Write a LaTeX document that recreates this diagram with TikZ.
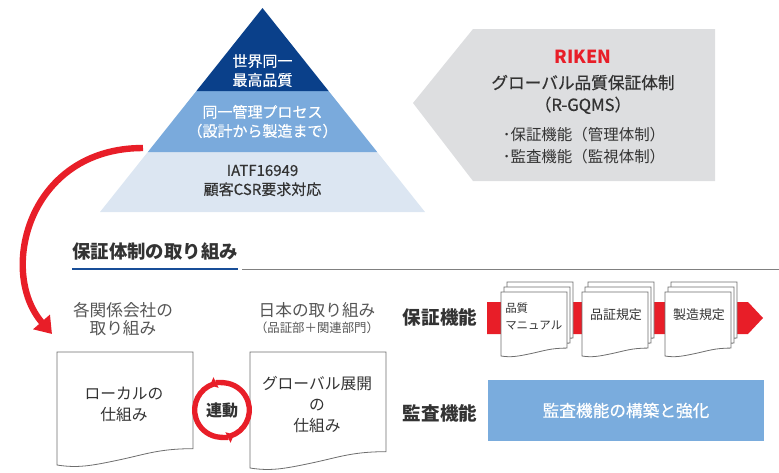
\documentclass[tikz,border=0pt]{standalone}
\usepackage{fontspec}
\setmainfont{Noto Sans CJK JP}
\newfontfamily\medfont{Noto Sans CJK JP}[FakeBold=0.5]
\usetikzlibrary{arrows.meta, positioning}

\definecolor{navy}{RGB}{10,64,138}
\definecolor{midblue}{RGB}{122,170,220}
\definecolor{paleblue}{RGB}{220,230,242}
\definecolor{panelgray}{RGB}{221,222,224}
\definecolor{rikenred}{RGB}{232,30,40}
\definecolor{textgray}{RGB}{51,51,51}
\definecolor{softgray}{RGB}{85,85,85}
\definecolor{boxblue}{RGB}{122,172,221}
\definecolor{lineblue}{RGB}{24,78,152}
\definecolor{pagegray}{RGB}{110,110,110}

\newcommand{\fsz}[2]{\fontsize{#1}{#2}\selectfont}
% page with wavy bottom: style, left, top, width, height
\newcommand{\sheet}[5]{%
  \draw[#1] (#2,#3) -- ++(#4,0) -- ++(0,#5-0.12*#4)
    .. controls +(-0.25*#4,0) and +(0.2*#4,-0.042*#4) .. ++(-0.55*#4,0.084*#4)
    .. controls +(-0.2*#4,0.042*#4) and +(0.15*#4,0.024*#4) .. ++(-0.45*#4,0.036*#4)
    -- cycle;}

\tikzset{
  pyrtext/.style={align=center, inner sep=0pt, font=\medfont\fsz{11.25}{14.25}},
  paneltext/.style={align=center, inner sep=0pt, text=textgray},
  bigarrow/.style={draw=rikenred, line width=4.8pt, -{Triangle[length=12pt,width=16pt]}},
  ringline/.style={draw=rikenred, line width=4pt, -{Triangle[length=5pt,width=8.5pt]}},
  colhead/.style={align=center, inner sep=0pt, text=softgray, font=\fsz{12.5}{13.5}},
  doctext/.style={align=center, inner sep=0pt, text=textgray, font=\fsz{11.8}{16}},
  docpage/.style={draw=pagegray, line width=0.6pt, fill=white},
  rowlabel/.style={inner sep=0pt, text=textgray, font=\bfseries\fsz{13.9}{16}},
  pagetext/.style={inner sep=0pt, text=textgray, font=\fsz{9.7}{12}},
  auditbox/.style={fill=boxblue, text=white, minimum width=207pt, minimum height=45.75pt,
    inner sep=0pt, font=\medfont\fsz{12.5}{14}},
}

\begin{document}
\begin{tikzpicture}[x=0.75pt, y=-0.75pt]
  \useasboundingbox (0,0) rectangle (779,472);

  % pyramid
  \fill[paleblue] (100,212) -- (147.8,152) -- (377.2,152) -- (425,212) -- cycle;
  \fill[midblue] (147.8,152) -- (196.4,91) -- (328.6,91) -- (377.2,152) -- cycle;
  \fill[navy] (196.4,91) -- (262.5,8) -- (328.6,91) -- cycle;
  \node[pyrtext, text=white] (best) at (262.5,70.5) {世界同一\\最高品質};
  \node[pyrtext, text=white] (process) at (262.5,121.5) {同一管理プロセス\\（設計から製造まで）};
  \node[pyrtext, text=textgray] (iatf) at (262.5,180.5) {IATF16949\\顧客CSR要求対応};

  % R-GQMS panel
  \fill[panelgray] (413,103) -- (473,29) -- (715,29) -- (715,181) -- (473,181) -- cycle;
  \node[paneltext, text=rikenred, font=\bfseries\fsz{13.5}{15}] (riken) at (583,57) {RIKEN};
  \node[paneltext, font=\medfont\fsz{12.5}{16.5}, below=8pt of riken] (gqms) {グローバル品質保証体制\\（R-GQMS）};
  \node[paneltext, font=\fsz{11.6}{16.5}, align=left] (funcs) at (584,146) {･保証機能（管理体制）\\･監査機能（監視体制）};

  % arrow down to the local side
  \coordinate (pyrleft) at (143,148);
  \coordinate (downto) at (52,334);
  \draw[bigarrow] (pyrleft) .. controls (28,148) and (-2,272) .. (downto);

  % heading
  \node[inner sep=0pt, anchor=west, text=textgray, font=\bfseries\fsz{13.8}{16}] (title) at (72,252) {保証体制の取り組み};
  \draw[lineblue, line width=1.5pt] (72,269) -- (238,269);
  \draw[gray, line width=0.7pt] (242,269) -- (779,269);

  % two columns
  \node[colhead] (affil) at (123,319) {各関係会社の\\取り組み};
  \node[colhead] (japan) at (317,310) {日本の取り組み};
  \node[colhead, font=\fsz{9.3}{11}, below=3pt of japan] (dept) {（品証部＋関連部門）};

  \sheet{docpage}{57}{352}{136}{113}
  \sheet{docpage}{250}{352}{136}{116}
  \node[doctext] (local) at (124,404.5) {ローカルの\\仕組み};
  \node[doctext] (global) at (317,404.5) {グローバル展開\\の\\仕組み};

  % link ring
  \node[inner sep=0pt, text=textgray, font=\bfseries\fsz{12}{14}] (link) at (222,410) {連動};
  \draw[ringline] ([shift={(108:20.5pt)}]link.center) arc[start angle=108, end angle=296, radius=20.5pt];
  \draw[ringline] ([shift={(-72:20.5pt)}]link.center) arc[start angle=-72, end angle=116, radius=20.5pt];

  % assurance row
  \node[rowlabel] (assure) at (440,317) {保証機能};
  \fill[rikenred] (487,302) -- (748,302) -- (763,318) -- (748,334) -- (487,334) -- cycle;
  \foreach \px in {501,582,665}{
    \foreach \k in {2,1}{\sheet{docpage}{\px+3*\k}{292-5*\k}{66}{64}}
    \sheet{docpage}{\px}{292}{66}{64}
  }
  \node[pagetext, font=\fsz{8.6}{13}, align=left, anchor=west] (manual) at (505,316.5) {品質\\マニュアル};
  \node[pagetext] (qrules) at (616,315) {品証規定};
  \node[pagetext] (mrules) at (699,315) {製造規定};

  % audit row
  \node[rowlabel] (auditlbl) at (440,413) {監査機能};
  \node[auditbox] (audit) at (626,410.5) {監査機能の構築と強化};
\end{tikzpicture}
\end{document}
